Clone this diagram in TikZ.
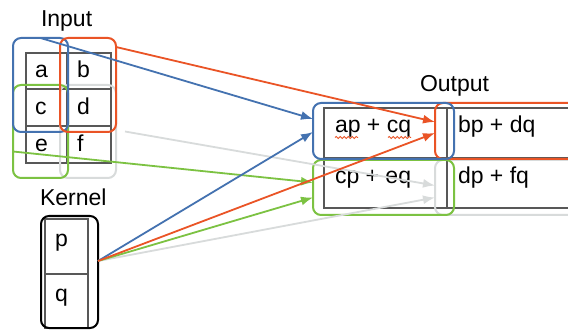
\documentclass[tikz,border=0pt]{standalone}
\usepackage{fontspec}
\setmainfont{Liberation Sans}
\usetikzlibrary{arrows.meta,calc,decorations.pathmorphing}

\definecolor{hlblue}{RGB}{68,114,176}
\definecolor{hlred}{RGB}{234,84,38}
\definecolor{hlgreen}{RGB}{124,194,66}
\definecolor{hlgray}{RGB}{216,219,219}
\definecolor{gridgray}{RGB}{88,88,88}

\begin{document}
\begin{tikzpicture}[x=1pt,y=-1pt,
  every node/.style={inner sep=0pt, outer sep=0pt},
  cell/.style n args={2}{draw=gridgray, line width=1.4pt, minimum width=#1, minimum height=#2},
  txt/.style={anchor=base west, font=\fontsize{23}{27}\selectfont},
  hl/.style={draw=#1, line width=2pt, rounded corners=8pt},
  conn/.style={draw=#1, line width=1.8pt, -{Latex[length=12pt,width=9pt]}},
  squiggle/.style={draw=hlred, line width=0.8pt, decorate,
    decoration={snake, amplitude=1.1pt, segment length=4pt}}]

\useasboundingbox (0,0) rectangle (568,334);
\clip (0,0) rectangle (568,334);
\fill[white] (0,0) rectangle (568,334);

% ---------- input table ----------
\node[txt] (lin) at (41,27) {Input};
\node[cell={41}{36}] (ia) at (46.5,71) {};
\node[cell={44}{36}] (ib) at (89,71) {};
\node[cell={41}{37}] (ic) at (46.5,107.5) {};
\node[cell={44}{37}] (id) at (89,107.5) {};
\node[cell={41}{37}] (ie) at (46.5,144.5) {};
\node[cell={44}{37}] (if) at (89,144.5) {};
\node[txt] at ($(ia.north west)+(9,25)$) {a};
\node[txt] at ($(ib.north west)+(10,25)$) {b};
\node[txt] at ($(ic.north west)+(9,26)$) {c};
\node[txt] at ($(id.north west)+(10,26)$) {d};
\node[txt] at ($(ie.north west)+(9,26)$) {e};
\node[txt] at ($(if.north west)+(10,26)$) {f};

% highlight windows over the input
\node[hl=hlgray,  minimum width=56, minimum height=93] (inW) at (88,131.5) {};
\node[hl=hlgreen, minimum width=55, minimum height=93] (inG) at (40.5,131.5) {};
\node[hl=hlblue,  minimum width=55, minimum height=94] (inB) at (40.5,85) {};
\node[hl=hlred,   minimum width=56, minimum height=94] (inR) at (88,85) {};

% ---------- kernel ----------
\node[txt] (lker) at (40,205) {Kernel};
\node[cell={43}{55}] (kp) at (66.5,246.5) {};
\node[cell={43}{54}] (kq) at (66.5,301) {};
\node[txt] at ($(kp.north west)+(10,28)$) {p};
\node[txt] at ($(kq.north west)+(10,27)$) {q};
\node[draw=black, line width=2pt, rounded corners=8pt,
      minimum width=57, minimum height=112] (kern) at (69.5,272) {};
\coordinate (kout) at ($(kern.east)+(0,-11)$);

% ---------- output table ----------
\node[txt] (lout) at (420,92) {Output};
\node[cell={123}{50}] (o1) at (385.5,133) {};
\node[cell={173}{50}] (o2) at (533.5,133) {};
\node[cell={123}{50}] (o3) at (385.5,183) {};
\node[cell={173}{50}] (o4) at (533.5,183) {};
\node[txt] (tap) at ($(o1.north west)+(11,25)$) {ap + cq};
\node[txt] at ($(o2.north west)+(11,25)$) {bp + dq};
\node[txt] at ($(o3.north west)+(11,25)$) {cp + eq};
\node[txt] at ($(o4.north west)+(11,25)$) {dp + fq};
\draw[squiggle] ($(tap.base west)+(0,4.5)$) -- ++(23,0);
\draw[squiggle] ($(tap.base west)+(53,4.5)$) -- ++(23,0);

% highlight windows over the output
\node[hl=hlgray,  minimum width=185, minimum height=55] (outW) at (527.5,187.5) {};
\node[hl=hlgreen, minimum width=141, minimum height=55] (outG) at (383.5,187.5) {};
\node[hl=hlred,   minimum width=185, minimum height=56] (outR) at (527.5,131) {};
\node[hl=hlblue,  minimum width=141, minimum height=56] (outB) at (383.5,131) {};

% ---------- connectors ----------
\draw[conn=hlgray]  ($(inW.east)+(9,0)$) -- ($(outW.west)+(0,-2)$);
\draw[conn=hlgray]  (kout) -- ($(outW.west)+(0,10)$);
\draw[conn=hlgreen] ($(inG.west)+(0,20)$) -- ($(outG.west)+(0,-5)$);
\draw[conn=hlgreen] (kout) -- ($(outG.west)+(0,10)$);
\draw[conn=hlblue]  (inB.north) -- ($(outB.west)+(0,-12)$);
\draw[conn=hlblue]  (kout) -- ($(outB.west)+(0,1)$);
\draw[conn=hlred]   ($(inR.north east)+(0,9)$) -- ($(outR.west)+(0,-9)$);
\draw[conn=hlred]   (kout) -- ($(outR.west)+(0,2)$);

\end{tikzpicture}
\end{document}
